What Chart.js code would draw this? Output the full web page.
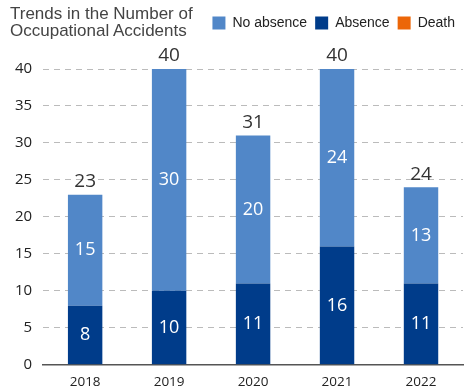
<!DOCTYPE html>
<html>
<head>
<meta charset="utf-8">
<script src="https://cdn.jsdelivr.net/npm/chart.js@4"></script>
<style>
  body { margin: 0; background: #fff; }
  #wrap { position: relative; width: 465px; height: 391px; }
  #titulo {
    position: absolute; left: 10px; top: 5px;
    font-family: "Liberation Sans", Arial, sans-serif;
    font-size: 17px; line-height: 17px; color: #444;
  }
</style>
</head>
<body>
<div id="wrap">
  <div id="titulo">Trends in the Number of<br>Occupational Accidents</div>
  <canvas id="grafico" width="465" height="391"></canvas>
</div>
<script>
const anos = ['2018', '2019', '2020', '2021', '2022'];
const semAfastamento = [15, 30, 20, 24, 13];
const comAfastamento = [8, 10, 11, 16, 11];
const obitos = [0, 0, 0, 0, 0];
const ticksY = [0, 5, 10, 15, 20, 25, 30, 35, 40];
const ordemLegenda = ['No absence', 'Absence', 'Death'];

// espaco extra embaixo da legenda
const espacoLegenda = {
    id: 'espacoLegenda',
    beforeInit(chart) {
        const fitOriginal = chart.legend.fit;
        chart.legend.fit = function () {
            fitOriginal.bind(chart.legend)();
            this.height += 29;
        };
    }
};

// rotulos dentro das barras e total em cima
const rotulos = {
    id: 'rotulos',
    afterDatasetsDraw(chart) {
        const c = chart.ctx;
        c.save();
        c.textAlign = 'center';
        c.textBaseline = 'middle';
        c.font = '18px "Open Sans", sans-serif';
        c.fillStyle = '#fff';
        chart.data.datasets.forEach((ds, i) => {
            const meta = chart.getDatasetMeta(i);
            meta.data.forEach((bar, j) => {
                if (!ds.data[j]) return;
                c.fillText(ds.data[j], bar.x, (bar.y + bar.base) / 2);
            });
        });
        const topo = chart.getDatasetMeta(0).data;
        c.fillStyle = '#333';
        c.font = '19px "Open Sans", sans-serif';
        anos.forEach((a, j) => {
            const total = semAfastamento[j] + comAfastamento[j] + obitos[j];
            c.fillText(total, topo[j].x, chart.scales.y.getPixelForValue(total) - 13);
        });
        c.restore();
    }
};

new Chart(document.getElementById('grafico'), {
    type: 'bar',
    data: {
        labels: anos,
        datasets: [
            { label: 'Absence', data: comAfastamento, backgroundColor: '#003C8A' },
            { label: 'No absence', data: semAfastamento, backgroundColor: '#5187C8' },
            { label: 'Death', data: obitos, backgroundColor: '#EC6608' }
        ]
    },
    options: {
        responsive: false,
        animation: false,
        barPercentage: 0.41,
        categoryPercentage: 1,
        layout: { padding: { left: 4, right: 2, top: 8, bottom: 0 } },
        scales: {
            x: {
                stacked: true,
                grid: { display: false },
                border: { display: true, color: '#555', width: 1.5 },
                ticks: { color: '#222', font: { family: 'Open Sans', size: 13.5 }, padding: 1 }
            },
            y: {
                stacked: true,
                min: 0,
                max: 40,
                afterBuildTicks: (ax) => { ax.ticks = ticksY.map(v => ({ value: v })); },
                border: { display: false, dash: [6, 5] },
                grid: { color: '#bbb', lineWidth: 1, drawTicks: false, dash: [6, 5], borderDash: [6, 5] },
                ticks: { color: '#222', font: { family: 'Open Sans', size: 15 }, padding: 11 }
            }
        },
        plugins: {
            legend: {
                position: 'top',
                align: 'end',
                labels: {
                    sort: (a, b) => ordemLegenda.indexOf(a.text) - ordemLegenda.indexOf(b.text),
                    boxWidth: 13,
                    boxHeight: 13,
                    padding: 8,
                    color: '#222',
                    font: { family: 'Liberation Sans', size: 14 }
                }
            },
            tooltip: { enabled: false }
        }
    },
    plugins: [espacoLegenda, rotulos]
});
</script>
</body>
</html>
